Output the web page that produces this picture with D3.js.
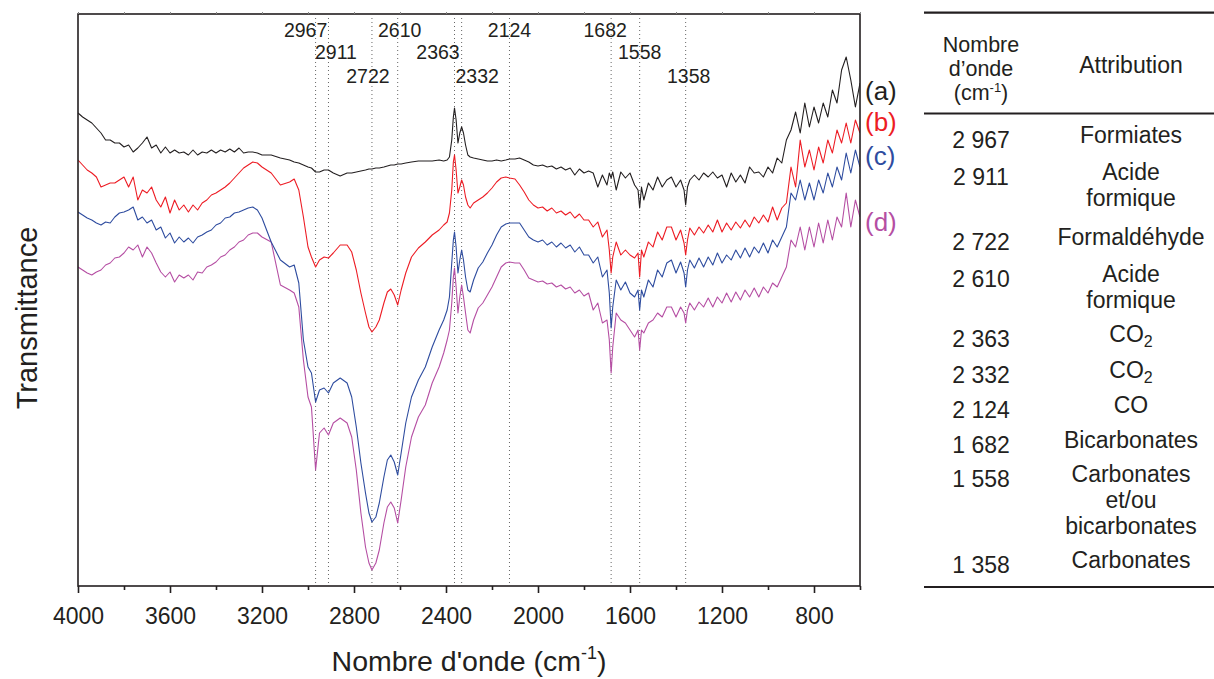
<!DOCTYPE html>
<html><head><meta charset="utf-8">
<script src="https://cdn.jsdelivr.net/npm/d3@7"></script>
<style>
body{margin:0;background:#fff;}
text{font-family:"Liberation Sans",Arial,Helvetica,sans-serif;fill:#231f20;}
</style></head><body>
<svg id="chart" width="1214" height="679"></svg>
<script>
// ---------- DATA (transmittance in arbitrary units) ----------
const wavenumbers = [
 4000,3980,3960,3940,3920,3900,3880,3860,3840,3820,3800,3780,3760,3740,3720,3700,3680,3660,3640,3620,
 3600,3580,3560,3540,3520,3500,3480,3460,3440,3420,3400,3380,3360,3340,3320,3300,3280,3260,3240,3220,3200,
 3160,3120,3080,3060,3040,3020,3000,2985,2967,2950,2930,2911,2890,2860,2830,2810,2790,2770,2750,2735,
 2722,2705,2690,2670,2655,2640,2625,2610,2595,2575,2550,2520,2490,2460,2430,2410,2395,2385,2375,2368,
 2363,2356,2348,2340,2332,2324,2315,2305,2295,2280,2260,2240,2220,2200,2180,2160,2140,2124,2100,2080,
 2060,2040,2020,2000,1980,1960,1940,1920,1900,1880,1860,1840,1820,1800,
 1780,1760,1740,1720,1700,1690,1682,1675,1660,1640,1620,1600,1580,1565,1558,1550,1540,1520,1500,1480,
 1460,1440,1420,1400,1380,1365,1358,1350,1340,
 1320,1300,1280,1260,1240,1220,1200,1180,1160,1140,1120,1100,1080,1060,1040,1020,1000,980,960,940,
 920,900,880,860,840,820,800,780,760,740,720,700,680,660,640,620,600
];
const seriesA = [
 47.3,46.9,46.6,46.3,45.8,45.3,44.6,44.6,44.3,44.3,43.9,44.1,43.4,43.8,44.3,44.9,43.8,44.1,43.3,43.9,
 43.3,43.6,43.3,43.4,43.1,43.6,43.1,43.4,43.3,43.6,43.3,43.6,43.4,43.7,43.4,43.8,43.3,43.4,43.4,43.3,43.1,
 43.1,42.8,42.6,42.4,42.3,42.1,41.9,41.8,41.4,41.4,41.6,41.6,41.3,41.0,41.3,41.3,41.4,41.5,41.6,41.7,
 41.7,41.8,41.8,41.9,42.0,42.1,42.1,42.2,42.2,42.3,42.4,42.5,42.5,42.5,42.6,42.5,42.6,42.9,44.6,46.9,
 47.8,46.6,44.3,45.3,45.9,45.3,44.1,43.1,42.9,42.8,42.7,42.6,42.5,42.5,42.6,42.5,42.6,42.7,42.7,42.8,
 42.6,42.4,42.1,42.0,42.1,41.9,42.0,41.7,41.9,41.6,41.8,41.1,41.7,41.3,
 41.5,41.3,39.9,41.1,40.1,41.3,40.8,41.4,39.6,41.4,40.8,41.3,40.1,39.6,37.8,39.9,38.6,40.3,39.6,40.9,
 39.9,40.6,40.9,39.9,40.6,39.6,38.1,39.9,40.6,
 41.1,40.6,41.3,40.9,41.4,40.8,41.1,39.9,41.3,40.4,41.1,40.3,41.9,41.3,41.4,40.9,41.9,41.3,42.8,42.3,
 44.6,45.6,47.4,45.3,48.3,45.9,47.9,46.3,48.3,46.9,49.6,48.3,51.6,52.9,50.6,47.9,50.3
];
const seriesB = [
 42.6,42.1,41.6,41.3,40.9,39.9,40.1,40.3,40.3,40.6,40.9,39.9,40.9,38.6,39.6,39.3,39.9,38.6,37.9,38.9,
 37.3,38.6,37.6,38.1,37.4,38.1,37.6,38.3,38.6,39.1,39.3,39.6,39.9,40.3,40.8,41.3,41.8,42.1,42.4,42.3,41.9,
 41.3,40.1,40.4,40.7,39.6,36.9,33.9,32.9,31.9,32.6,32.9,32.8,33.3,34.1,34.1,33.4,31.6,29.3,27.3,25.9,
 25.4,25.9,26.6,28.3,29.4,29.7,29.1,28.1,29.6,31.3,32.9,33.8,34.4,35.1,35.6,36.1,36.4,37.3,39.6,42.4,
 43.1,41.6,39.3,39.9,40.6,40.1,38.9,38.1,37.8,38.3,38.6,38.9,39.3,39.8,40.4,40.8,40.9,40.8,40.7,40.1,
 39.4,38.6,38.1,37.8,37.9,37.5,37.8,37.3,37.5,37.1,37.4,36.8,37.2,36.6,
 36.6,35.9,36.4,34.9,35.6,33.6,31.3,32.9,34.4,33.1,33.6,33.1,32.8,33.3,30.9,33.6,32.9,34.4,33.9,35.4,
 34.6,35.9,35.9,34.6,35.6,34.3,33.1,34.6,35.8,
 35.1,35.9,35.3,36.1,35.4,36.6,35.4,36.3,35.6,36.4,35.8,36.6,35.9,36.9,36.3,37.1,36.4,37.9,36.6,37.8,
 38.3,41.9,39.9,44.6,41.9,43.6,41.6,43.9,42.3,44.6,43.3,45.6,44.3,46.3,44.3,46.6,45.3
];
const seriesC = [
 37.4,37.1,36.8,36.6,36.3,36.1,36.4,36.3,36.9,37.3,37.4,37.6,37.9,36.6,36.9,36.3,36.6,35.6,35.9,34.8,
 35.3,34.3,34.9,34.4,34.8,34.3,34.9,35.1,35.4,35.6,36.1,36.3,36.8,36.9,37.3,37.4,37.6,37.8,37.9,37.6,36.8,
 34.4,32.6,31.9,32.1,30.3,24.6,21.9,21.3,18.4,19.6,19.8,19.3,20.3,20.8,20.3,18.9,15.9,12.3,9.3,7.3,
 6.4,6.9,8.3,10.9,12.6,13.1,12.4,11.1,13.3,16.3,18.9,20.6,21.9,23.9,25.6,26.6,27.6,28.9,32.3,34.6,
 35.4,33.9,31.3,32.6,33.6,32.6,30.9,29.6,29.4,30.6,31.8,32.4,33.3,34.1,35.1,35.9,36.2,36.3,36.3,36.3,
 35.6,34.9,34.6,34.4,34.6,34.1,34.4,33.9,34.3,33.8,34.1,33.4,33.9,33.1,
 33.1,32.3,32.9,30.9,31.6,29.3,25.8,27.9,30.6,29.6,30.4,29.3,28.9,29.6,27.6,29.6,28.9,30.6,29.9,31.6,
 30.9,32.3,32.6,31.3,32.4,31.3,29.9,31.6,32.6,
 31.8,32.8,31.9,32.9,32.1,33.3,32.3,33.1,32.6,33.6,32.8,33.8,32.9,33.9,33.3,34.3,33.3,34.6,33.9,34.9,
 35.9,39.3,38.6,40.6,38.6,40.3,38.6,40.6,39.3,41.3,39.9,41.9,40.6,43.3,41.3,43.6,41.9
];
const seriesD = [
 31.9,31.6,31.3,31.1,31.4,31.6,32.1,32.3,32.8,32.9,33.3,33.9,33.6,34.1,32.9,33.9,33.3,32.3,31.4,30.9,
 31.4,30.4,31.1,30.8,31.1,30.6,31.4,31.3,31.9,32.1,32.4,32.9,33.1,33.6,33.9,34.4,34.6,35.1,35.3,35.3,34.9,
 34.4,30.1,29.6,29.3,27.9,22.6,18.9,17.9,11.6,15.3,15.8,15.1,16.3,16.8,16.3,14.9,11.6,7.3,3.9,2.3,
 1.6,2.3,3.6,6.3,7.9,8.4,7.8,6.3,8.6,11.9,14.9,16.9,18.1,20.3,21.9,23.3,24.6,25.6,28.3,30.9,
 31.8,29.9,27.3,28.9,30.1,28.9,27.3,25.6,25.3,26.6,27.8,28.3,29.1,29.9,30.9,31.9,32.3,32.4,32.3,32.3,
 31.6,30.8,30.6,30.4,30.5,30.2,30.3,29.9,30.1,29.7,29.9,29.3,29.6,29.0,
 29.3,27.6,28.3,26.3,26.6,24.6,21.3,23.9,27.3,26.6,26.3,25.6,24.9,25.6,23.6,25.6,25.3,26.3,26.6,27.3,
 26.9,27.9,27.9,26.9,27.9,27.3,26.3,27.6,28.3,
 27.6,28.4,27.9,28.8,27.9,28.9,28.3,29.3,28.4,29.4,28.6,29.6,28.9,29.8,28.9,29.9,29.3,30.3,29.9,30.9,
 31.9,34.6,33.9,35.9,33.6,35.9,33.9,36.3,34.3,36.6,34.6,36.9,35.9,39.3,35.9,38.6,36.9
];
const seriesLabels = ["(a)", "(b)", "(c)", "(d)"];
const seriesColors = ["#231f20", "#ed1c24", "#2e4c9f", "#b54ea3"];
const peakWavenumbers = [2967, 2911, 2722, 2610, 2363, 2332, 2124, 1682, 1558, 1358];
const xMajorTicks = [4000, 3600, 3200, 2800, 2400, 2000, 1600, 1200, 800];
const xMinorTicks = [3800, 3400, 3000, 2600, 2200, 1800, 1400, 1000, 600];
const tableWavenumbers = ["2 967", "2 911", "2 722", "2 610", "2 363", "2 332", "2 124", "1 682", "1 558", "1 358"];
const tableAttributions = [
 ["Formiates"], ["Acide", "formique"], ["Formaldéhyde"], ["Acide", "formique"],
 ["CO2"], ["CO2"], ["CO"], ["Bicarbonates"], ["Carbonates", "et/ou", "bicarbonates"], ["Carbonates"]
];

// ---------- LAYOUT ----------
const W = 1214, H = 679;
const plot = {left: 78, right: 860, top: 14, bottom: 586};
const peakLabelRow = [0, 1, 2, 0, 1, 2, 0, 0, 1, 2];
const peakLabelShift = [-10, 7.5, -4, 2, -16.5, 15.5, 0, -6, 0, 3];
const peakRowBaseline = [37, 59, 83];
const seriesLabelY = [100, 131, 165, 231];
const tableRowY = [148, 185, 250, 287, 347, 383, 418, 453, 487, 573];

const svg = d3.select("#chart");
svg.append("rect").attr("width", W).attr("height", H).attr("fill", "#fff");

const x = d3.scaleLinear().domain([4000, 600]).range([plot.left, plot.right]);
const y = d3.scaleLinear().domain([0, 57.2]).range([plot.bottom, plot.top]);

// dotted reference lines
svg.append("g").selectAll("line").data(peakWavenumbers).join("line")
  .attr("x1", d => x(d)).attr("x2", d => x(d))
  .attr("y1", plot.top + 4).attr("y2", plot.bottom)
  .attr("stroke", "#555").attr("stroke-width", 0.9)
  .attr("stroke-dasharray", "1,3");

// spectra
const allSeries = [seriesA, seriesB, seriesC, seriesD];
const line = d3.line().x((d, i) => x(wavenumbers[i])).y(d => y(d)).curve(d3.curveLinear);
svg.append("clipPath").attr("id", "clip").append("rect")
  .attr("x", plot.left).attr("y", plot.top).attr("width", plot.right - plot.left).attr("height", plot.bottom - plot.top);
svg.append("g").attr("clip-path", "url(#clip)").selectAll("path").data(allSeries.slice().reverse()).join("path")
  .attr("d", d => line(d)).attr("fill", "none")
  .attr("stroke", (d, i) => seriesColors[3 - i]).attr("stroke-width", 1.1)
  .attr("stroke-linejoin", "round");

// frame
svg.append("rect").attr("x", plot.left).attr("y", plot.top)
  .attr("width", plot.right - plot.left).attr("height", plot.bottom - plot.top)
  .attr("fill", "none").attr("stroke", "#231f20").attr("stroke-width", 1.6);

// x axis
const xAxis = d3.axisBottom(x).tickValues(xMajorTicks).tickSize(7).tickPadding(15).tickFormat(d3.format("d"));
const gx = svg.append("g").attr("transform", `translate(0,${plot.bottom})`).call(xAxis);
gx.select(".domain").remove();
gx.selectAll(".tick line").attr("stroke", "#231f20").attr("stroke-width", 1.6);
gx.selectAll(".tick text").attr("font-size", 23).attr("fill", "#231f20")
  .style("font-family", '"Liberation Sans",Arial,sans-serif');
const xAxisMinor = d3.axisBottom(x).tickValues(xMinorTicks).tickSize(4).tickFormat("");
const gxm = svg.append("g").attr("transform", `translate(0,${plot.bottom})`).call(xAxisMinor);
gxm.select(".domain").remove();
gxm.selectAll(".tick line").attr("stroke", "#231f20").attr("stroke-width", 1.6);
// faint mirror ticks on the top edge
const xAxisTop = d3.axisTop(x).tickValues(xMajorTicks.concat(xMinorTicks)).tickSize(2).tickFormat("");
const gxt = svg.append("g").attr("transform", `translate(0,${plot.top})`).call(xAxisTop);
gxt.select(".domain").remove();
gxt.selectAll(".tick line").attr("stroke", "#888").attr("stroke-width", 1);

// axis titles
const xt = svg.append("text").attr("x", (plot.left + plot.right) / 2).attr("y", 671)
  .attr("text-anchor", "middle").attr("font-size", 28.5);
xt.append("tspan").text("Nombre d'onde (cm");
xt.append("tspan").text("-1").attr("font-size", 18).attr("dy", -12);
xt.append("tspan").text(")").attr("dy", 12);

svg.append("text").attr("transform", `translate(37,${318}) rotate(-90)`)
  .attr("text-anchor", "middle").attr("font-size", 29).text("Transmittance");

// peak labels
svg.append("g").selectAll("text").data(peakWavenumbers).join("text")
  .attr("x", (d, i) => x(d) + peakLabelShift[i])
  .attr("y", (d, i) => peakRowBaseline[peakLabelRow[i]])
  .attr("text-anchor", "middle").attr("font-size", 19.5)
  .text(d => d);

// series labels
svg.append("g").selectAll("text").data(seriesLabels).join("text")
  .attr("x", 865).attr("y", (d, i) => seriesLabelY[i])
  .attr("font-size", 26).style("fill", (d, i) => seriesColors[i])
  .text(d => d);

// ---------- TABLE ----------
const tbl = svg.append("g");
const col1 = 981, col2 = 1131, tl = 924, tr = 1214;
[12.7, 113.5, 587].forEach(yy => tbl.append("line").attr("x1", tl).attr("x2", tr)
  .attr("y1", yy).attr("y2", yy).attr("stroke", "#231f20").attr("stroke-width", 2.2));
const headFont = 21.5, headStep = 24.2;
const headLines = ["Nombre", "d\u2019onde"];
headLines.forEach((t, j) => tbl.append("text").attr("x", col1).attr("y", 52 + j * headStep)
  .attr("text-anchor", "middle").attr("font-size", headFont).text(t));
const h3 = tbl.append("text").attr("x", col1).attr("y", 52 + 2 * headStep)
  .attr("text-anchor", "middle").attr("font-size", headFont);
h3.append("tspan").text("(cm");
h3.append("tspan").text("-1").attr("font-size", 13).attr("dy", -8);
h3.append("tspan").text(")").attr("dy", 8);
tbl.append("text").attr("x", col2).attr("y", 73).attr("text-anchor", "middle").attr("font-size", 23).text("Attribution");

tableWavenumbers.forEach((wn, i) => {
  tbl.append("text").attr("x", col1).attr("y", tableRowY[i]).attr("text-anchor", "middle")
    .attr("font-size", 23).text(wn);
  tableAttributions[i].forEach((t, j) => {
    const yy = tableRowY[i] - 5 + j * 26;
    const tx = tbl.append("text").attr("x", col2).attr("y", yy).attr("text-anchor", "middle").attr("font-size", 23);
    if (t === "CO2") {
      tx.append("tspan").text("CO");
      tx.append("tspan").text("2").attr("font-size", 16).attr("dy", 5);
    } else {
      tx.text(t);
    }
  });
});
</script>
</body></html>
